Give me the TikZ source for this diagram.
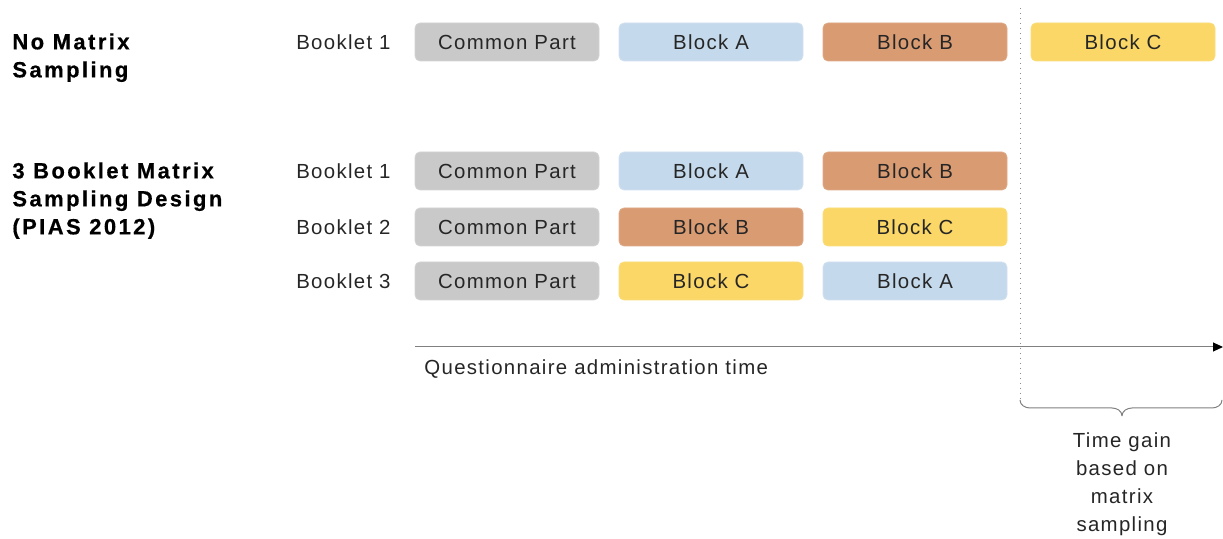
\documentclass[tikz,border=0pt]{standalone}
\usepackage{fontspec}
\setmainfont{Liberation Sans}
\newfontfamily\lblfont{Liberation Sans}[LetterSpace=6.5]
\newfontfamily\headfont{Liberation Sans}[LetterSpace=11, FakeBold=0.6, BoldFont={Liberation Sans Bold}]
\usetikzlibrary{arrows.meta}
\definecolor{cgray}{HTML}{C9C9C9}
\definecolor{cblue}{HTML}{C5D9EC}
\definecolor{corange}{HTML}{D99B72}
\definecolor{cyellow}{HTML}{FAD766}
\definecolor{axisgray}{HTML}{808080}
\tikzset{
  blk/.style={rounded corners=2.5pt, minimum width=92pt, minimum height=19pt, inner sep=0pt,
    font=\lblfont\fontsize{10.2}{12}\selectfont, text=black!85},
  gray blk/.style={blk, fill=cgray, draw=cgray!80!white},
  blue blk/.style={blk, fill=cblue, draw=cblue!80!white},
  orange blk/.style={blk, fill=corange, draw=corange!85!white},
  yellow blk/.style={blk, fill=cyellow, draw=cyellow!85!white},
  booklbl/.style={anchor=east, inner sep=0pt, font=\lblfont\fontsize{10.2}{12}\selectfont, text=black!85},
  head/.style={anchor=west, inner sep=0pt, align=left, font=\headfont\fontsize{11}{14}\selectfont\bfseries},
  plain/.style={inner sep=0pt, font=\lblfont\fontsize{10.2}{14}\selectfont, text=black!85},
}
\begin{document}
\begin{tikzpicture}[x=0.5pt, y=-0.5pt]
\useasboundingbox (0,0) rectangle (1223,539);
% headings
\node[head, anchor=north west] (h1) at (12,33) {No Matrix\\Sampling};
\node[head, anchor=north west] (h2) at (12,162) {3 Booklet Matrix\\Sampling Design\\(PIAS 2012)};
% booklet labels
\node[booklbl] (l0) at (391,42) {Booklet 1};
\node[booklbl] (l1) at (391,171) {Booklet 1};
\node[booklbl] (l2) at (391,227) {Booklet 2};
\node[booklbl] (l3) at (391,281) {Booklet 3};
% row 0
\node[gray blk] (r0c) at (507,42) {Common Part};
\node[blue blk] (r0a) at (711,42) {Block A};
\node[orange blk] (r0b) at (915,42) {Block B};
\node[yellow blk] (r0x) at (1123,42) {Block C};
% row 1
\node[gray blk] (r1c) at (507,171) {Common Part};
\node[blue blk] (r1a) at (711,171) {Block A};
\node[orange blk] (r1b) at (915,171) {Block B};
% row 2
\node[gray blk] (r2c) at (507,227) {Common Part};
\node[orange blk] (r2a) at (711,227) {Block B};
\node[yellow blk] (r2b) at (915,227) {Block C};
% row 3
\node[gray blk] (r3c) at (507,281) {Common Part};
\node[yellow blk] (r3a) at (711,281) {Block C};
\node[blue blk] (r3b) at (915,281) {Block A};
% axis
\coordinate (ax0) at (415,347);
\coordinate (ax1) at (1223,347);
\draw[axisgray, line width=0.5pt, -{Triangle[length=5pt,width=4.5pt,color=black]}] (ax0) -- (ax1);
\node[plain, anchor=west] (axl) at (424,369) {Questionnaire administration time};
% dotted divider and brace
\coordinate (d0) at (1020,8);
\coordinate (d1) at (1020,400);
\draw[black!45, dotted, line width=0.5pt] (d0) -- (d1);
\coordinate (b1) at (1222,400);
\coordinate (bt) at (1122,416);
\draw[black!50, line width=0.5pt] (d1) to[out=-90,in=180] (1030,408) -- (1112,408) to[out=0,in=90] (bt)
  (bt) to[out=90,in=180] (1132,408) -- (1212,408) to[out=0,in=-90] (b1);
\node[plain, align=center, anchor=north] (gain) at (1122,432) {Time gain\\based on\\matrix\\sampling};
\end{tikzpicture}
\end{document}
